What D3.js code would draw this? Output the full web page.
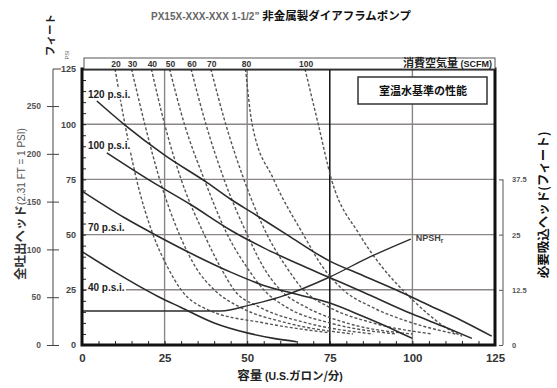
<!DOCTYPE html>
<html>
<head>
<meta charset="utf-8">
<script src="https://cdn.jsdelivr.net/npm/d3@7"></script>
<style>
  body { margin: 0; background: #fff; }
  svg { display: block; }
  text { font-family: "Liberation Sans", Arial, sans-serif; }
  .jp { font-family: "Noto Sans CJK JP", sans-serif; }
</style>
</head>
<body>
<div id="chart"></div>
<script>
// axis ticks
const gpmTicks = [0, 25, 50, 75, 100, 125];
const psiTicks = [0, 25, 50, 75, 100, 125];
const ftTicks = [0, 50, 100, 150, 200, 250];
const npshTicks = [0, 12.5, 25, 37.5];

// pressure curves: [gpm, psi]
const psiNames = ['120 p.s.i.', '100 p.s.i.', '70 p.s.i.', '40 p.s.i.'];
const psi120 = [[4.5,110.5],[13,99.6],[25,86],[38,73.4],[45,66],[52,59.5],[62,50],[75,38],[85,31.5],[95,25],[105,18],[115,11],[124,4]];
const psi100 = [[7.5,87],[20,75],[33,63.5],[45,52],[55,44],[65,37],[75,30.5],[85,24],[100,14],[110,8],[118,3]];
const psi70 = [[0,69.7],[13,57.5],[22.7,49.5],[35,40],[45,33],[55,27],[65,23],[75,19],[85,13],[95,6.5],[100,3]];
const psi40 = [[0,42.3],[10,33],[23,22],[30,17],[40,10],[50,5.5],[58,3],[65,1.5]];

// air consumption curves (SCFM): [gpm, psi]
const scfmNames = [20, 30, 40, 50, 60, 70, 80, 100];
const scfm20 = [[10,125],[13,100],[16.5,75],[21.5,50],[26,35],[30,25],[38,16],[55,10],[75,5.5]];
const scfm30 = [[15,125],[19,100],[23.5,75],[29.5,50],[34.5,35],[40,25],[48,17],[62,10],[82,5]];
const scfm40 = [[21,125],[25,100],[30,75],[37,50],[42,35],[46,25],[54,17],[68,10],[88,5]];
const scfm50 = [[26.5,125],[31,100],[37,75],[44,50],[50,35],[55,25],[62,17],[75,10],[95,5]];
const scfm60 = [[33,125],[37.5,100],[43,75],[50,50],[55,35],[60,25],[68,17],[80,10],[100,5]];
const scfm70 = [[39,125],[43.5,100],[49,75],[56,50],[62,35],[67,25],[75,17],[88,10],[106,5]];
const scfm80 = [[49.5,125],[51.5,100],[58,75],[67,50],[73,35],[79,25],[88,17],[100,10],[113,5]];
const scfm100 = [[67.5,125],[71.5,100],[75.5,75],[84,50],[91,35],[97,25],[104,15],[110,8],[115,4]];

// NPSHr: [gpm, ft]
const npshR = [[0,7.7],[42,7.7],[51,9.1],[60,10.9],[75,15.4],[87,19.9],[99.5,24]];

const width = 557, height = 388;
const x = d3.scaleLinear([0, 125], [82, 495]);
const y = d3.scaleLinear([0, 125], [345, 69]);
const yFt = d3.scaleLinear([0, 125 * 2.31], [345, 69]);
const yNpsh = d3.scaleLinear([0, 62.5], [345, 69]);

const svg = d3.select('#chart').append('svg')
    .attr('width', width)
    .attr('height', height);

svg.append('clipPath').attr('id', 'plot')
  .append('rect')
    .attr('x', x(0)).attr('y', y(125))
    .attr('width', x(125) - x(0)).attr('height', y(0) - y(125));

// title
const title = svg.append('text')
    .attr('x', 151).attr('y', 20)
    .attr('font-weight', 'bold');
title.append('tspan').attr('fill', '#666').attr('font-size', 10).text('PX15X-XXX-XXX 1-1/2”  ');
title.append('tspan').attr('class', 'jp').attr('fill', '#111').attr('font-size', 11.5).text('非金属製ダイアフラムポンプ');

// gridlines
const grid = svg.append('g');
grid.selectAll('line.h')
  .data(psiTicks.filter(d => d > 0 && d < 125))
  .join('line')
    .attr('x1', x(0)).attr('x2', x(125))
    .attr('y1', d => y(d)).attr('y2', d => y(d))
    .attr('stroke', '#8c8585').attr('stroke-width', 1.4);
grid.selectAll('line.v')
  .data(gpmTicks.filter(d => d > 0 && d < 125))
  .join('line')
    .attr('y1', y(0)).attr('y2', y(125))
    .attr('x1', d => x(d)).attr('x2', d => x(d))
    .attr('stroke', d => d === 75 ? '#111' : '#8c8585')
    .attr('stroke-width', d => d === 75 ? 1.5 : 1.4);

// minor ticks inside the frame
svg.append('g')
    .attr('transform', `translate(${x(0)},0)`)
    .call(d3.axisLeft(y).ticks(25).tickSize(-4).tickFormat(''))
    .call(g => g.select('.domain').remove())
    .call(g => g.selectAll('.tick line').attr('stroke', '#222').attr('stroke-width', 1));
svg.append('g')
    .attr('transform', `translate(0,${y(0)})`)
    .call(d3.axisBottom(x).ticks(25).tickSize(-4).tickFormat(''))
    .call(g => g.select('.domain').remove())
    .call(g => g.selectAll('.tick line').attr('stroke', '#222').attr('stroke-width', 1));

const line = d3.line()
    .x(d => x(d[0]))
    .y(d => y(d[1]))
    .curve(d3.curveMonotoneX);

const plot = svg.append('g').attr('clip-path', 'url(#plot)');

// dashed air curves
const scfmCurves = [scfm20, scfm30, scfm40, scfm50, scfm60, scfm70, scfm80, scfm100];
plot.selectAll('path.scfm')
  .data(scfmCurves)
  .join('path')
    .attr('fill', 'none')
    .attr('stroke', '#555')
    .attr('stroke-width', 1.4)
    .attr('stroke-dasharray', '3,2')
    .attr('d', line);

// pressure curves
const psiCurves = [psi120, psi100, psi70, psi40];
plot.selectAll('path.psi')
  .data(psiCurves)
  .join('path')
    .attr('fill', 'none')
    .attr('stroke', '#2b2b2b')
    .attr('stroke-width', 1.6)
    .attr('d', line);

// NPSHr
plot.append('path')
    .datum(npshR)
    .attr('fill', 'none')
    .attr('stroke', '#2b2b2b')
    .attr('stroke-width', 1.4)
    .attr('d', d3.line().x(d => x(d[0])).y(d => yNpsh(d[1])).curve(d3.curveMonotoneX));

// pressure labels with white backing
const psiLabelPos = [[1.8, 112], [1.8, 88.8], [1.8, 51.6], [1.8, 24.5]];
psiNames.forEach((name, i) => {
  const g = svg.append('g');
  const t = g.append('text')
      .attr('x', x(psiLabelPos[i][0]))
      .attr('y', y(psiLabelPos[i][1]))
      .attr('font-size', 10)
      .attr('font-weight', 'bold')
      .attr('fill', '#222')
      .text(name);
  const b = t.node().getBBox();
  g.insert('rect', 'text')
      .attr('x', b.x - 1).attr('y', b.y)
      .attr('width', b.width + 2).attr('height', b.height)
      .attr('fill', '#fff');
});

// NPSHr label
const nl = svg.append('text')
    .attr('x', x(101)).attr('y', yNpsh(23.5))
    .attr('font-size', 9).attr('font-weight', 'bold').attr('fill', '#444');
nl.append('tspan').text('NPSH');
nl.append('tspan').attr('font-size', 6.5).attr('dy', 2).text('r');

// legend box
svg.append('rect')
    .attr('x', x(125) - 137).attr('y', y(125) + 8)
    .attr('width', 129).attr('height', 27)
    .attr('fill', '#fff').attr('stroke', '#333').attr('stroke-width', 1.5);
svg.append('text')
    .attr('class', 'jp')
    .attr('x', x(125) - 72).attr('y', y(125) + 26)
    .attr('text-anchor', 'middle')
    .attr('font-size', 11).attr('font-weight', 'bold').attr('fill', '#111')
    .text('室温水基準の性能');

// frame
svg.append('rect')
    .attr('x', x(0)).attr('y', y(125))
    .attr('width', x(125) - x(0)).attr('height', y(0) - y(125))
    .attr('fill', 'none').attr('stroke', '#111').attr('stroke-width', 3);

// SCFM band
svg.append('rect')
    .attr('x', x(0) + 2).attr('y', y(125) - 11)
    .attr('width', x(125) - x(0) - 2).attr('height', 11)
    .attr('fill', '#fff').attr('stroke', '#555').attr('stroke-width', 1);
svg.append('g')
  .selectAll('text')
  .data(scfmNames)
  .join('text')
    .attr('x', (d, i) => x(scfmCurves[i][0][0]) + 1)
    .attr('y', y(125) - 2.5)
    .attr('text-anchor', 'middle')
    .attr('font-size', 8.5).attr('font-weight', 'bold').attr('fill', '#333')
    .text(d => d);
const band = svg.append('text')
    .attr('x', x(125) - 3).attr('y', y(125) - 2)
    .attr('text-anchor', 'end')
    .attr('font-weight', 'bold').attr('fill', '#222');
band.append('tspan').attr('class', 'jp').attr('font-size', 11).text('消費空気量 ');
band.append('tspan').attr('font-size', 9).text('(SCFM)');

// inner psi labels
svg.append('g')
    .attr('transform', `translate(${x(0)},0)`)
    .call(d3.axisLeft(y).tickValues(psiTicks).tickSize(0).tickPadding(6))
    .call(g => g.select('.domain').remove())
    .call(g => g.selectAll('text').attr('font-size', 9).attr('font-weight', 'bold').attr('fill', '#444'));

// outer feet axis
svg.append('g')
    .attr('transform', 'translate(53,0)')
    .call(d3.axisLeft(yFt).tickValues(ftTicks).tickSize(6).tickPadding(6))
    .call(g => g.select('.domain').attr('d', `M0,${y(0)}V${y(125)}`).attr('stroke', '#444'))
    .call(g => g.selectAll('.tick line').attr('x2', 6).attr('x1', -6).attr('stroke', '#444'))
    .call(g => g.selectAll('text').attr('font-size', 8.5).attr('font-weight', 'bold').attr('fill', '#555'));
svg.append('line')
    .attr('x1', 53).attr('x2', 61).attr('y1', y(125)).attr('y2', y(125))
    .attr('stroke', '#444');

// right NPSH axis
svg.append('g')
    .attr('transform', 'translate(503,0)')
    .call(d3.axisRight(yNpsh).tickValues(npshTicks).tickSize(-4).tickPadding(9).tickFormat(d => d))
    .call(g => g.select('.domain').attr('d', `M0,${yNpsh(0)}V${yNpsh(37.5)}`).attr('stroke', '#555'))
    .call(g => g.selectAll('.tick line').attr('stroke', '#555'))
    .call(g => g.selectAll('text').attr('font-size', 7.5).attr('font-weight', 'bold').attr('fill', '#555'));

// bottom labels
svg.append('g')
    .attr('transform', `translate(0,${y(0)})`)
    .call(d3.axisBottom(x).tickValues(gpmTicks).tickSize(0).tickPadding(9))
    .call(g => g.select('.domain').remove())
    .call(g => g.selectAll('text').attr('font-size', 11.5).attr('font-weight', 'bold').attr('fill', '#333'));

// axis titles
const xt = svg.append('text')
    .attr('x', 290).attr('y', 380)
    .attr('text-anchor', 'middle')
    .attr('font-weight', 'bold').attr('fill', '#222');
xt.append('tspan').attr('class', 'jp').attr('font-size', 12.5).text('容量 ');
xt.append('tspan').attr('font-size', 10.5).text('(U.S.');
xt.append('tspan').attr('class', 'jp').attr('font-size', 11.5).text('ガロン/分');
xt.append('tspan').attr('font-size', 10.5).text(')');

const yt = svg.append('text')
    .attr('transform', 'translate(25,204) rotate(-90)')
    .attr('text-anchor', 'middle')
    .attr('fill', '#333');
yt.append('tspan').attr('class', 'jp').attr('font-size', 12.5).attr('font-weight', 'bold').text('全吐出ヘッド');
yt.append('tspan').attr('font-size', 10).attr('fill', '#555').text('(2.31 FT = 1 PSI)');

svg.append('text')
    .attr('class', 'jp')
    .attr('transform', 'translate(54,35) rotate(-90)')
    .attr('text-anchor', 'middle')
    .attr('font-size', 10.5).attr('font-weight', 'bold').attr('fill', '#222')
    .text('フィート');
svg.append('text')
    .attr('transform', 'translate(69,55) rotate(-90)')
    .attr('text-anchor', 'middle')
    .attr('font-size', 5.5).attr('fill', '#666')
    .text('PSI');

svg.append('text')
    .attr('class', 'jp')
    .attr('transform', 'translate(548,205) rotate(-90)')
    .attr('text-anchor', 'middle')
    .attr('font-size', 12.5).attr('font-weight', 'bold').attr('fill', '#111')
    .text('必要吸込ヘッド(フィート)');
</script>
</body>
</html>
